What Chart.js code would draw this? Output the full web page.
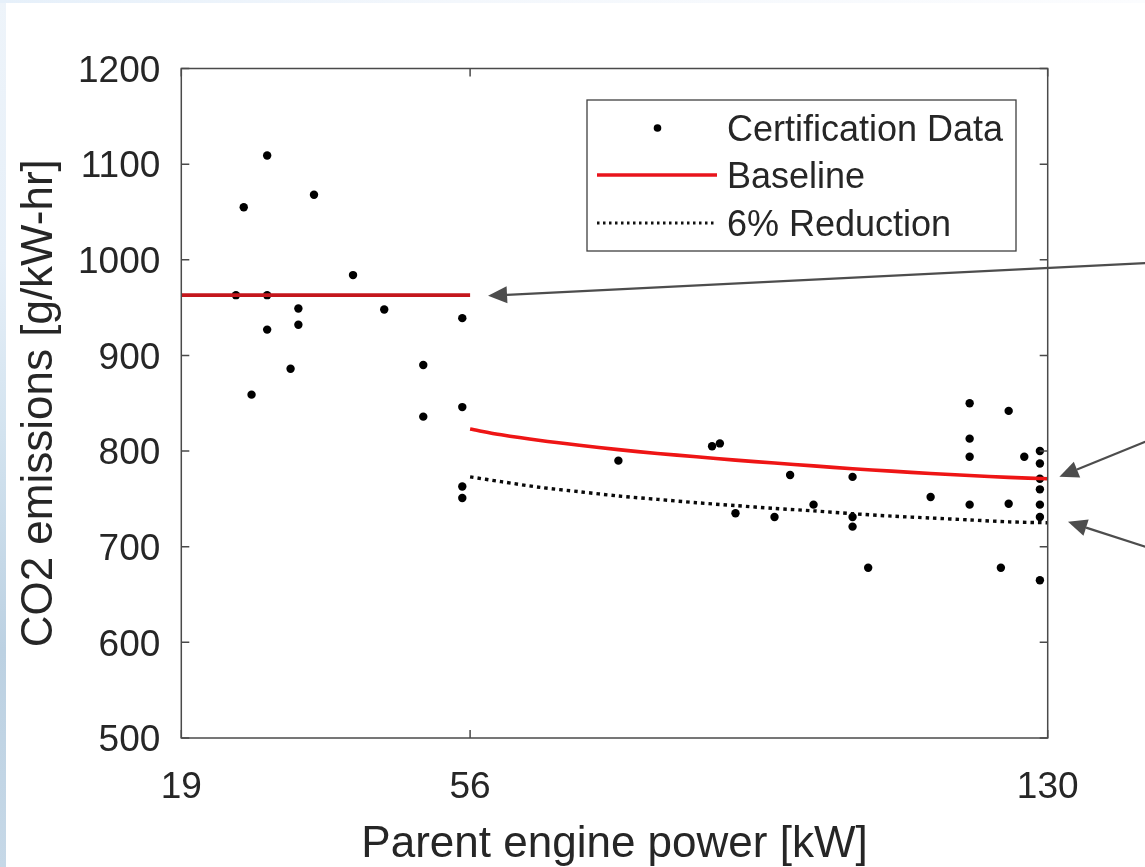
<!DOCTYPE html>
<html><head><meta charset="utf-8">
<script src="https://cdn.jsdelivr.net/npm/chart.js@4.4.1/dist/chart.umd.min.js"></script>
<style>
html,body{margin:0;padding:0;background:#fff;}
#wrap{position:relative;width:1145px;height:867px;overflow:hidden;background:#fff;}
#leftStrip{position:absolute;left:0;top:0;width:6px;height:867px;background:linear-gradient(to bottom,#eef4fa 0%,#e6eff8 30%,#d3e3ef 50%,#bcd1e2 75%,#c6d8e7 100%);}
#topStrip{position:absolute;left:0;top:0;width:1145px;height:3px;background:linear-gradient(to right,#e6f0fa 0%,#f3f7fc 40%,#fbfcfe 100%);}
canvas{position:absolute;left:0;top:0;}
</style></head>
<body><div id="wrap"><div id="leftStrip"></div><div id="topStrip"></div><canvas id="c" width="1145" height="867"></canvas></div>
<script>
// ---- data ----
const certX = [27,30,36,41,26,30,34,45,55,30,34,50,33,28,50,55,55,55,
               75,87,88,90,95,97,100,105,105,105,107,115,120,120,120,120,124,125,125,127,129,129,129,129,129,129,129];
const certY = [1055,1109,1068,984,963,963,949,948,939,927,932,890,886,859,836,846,763,751,
               790,805,808,735,731,775,744,773,731,721,678,752,850,813,794,744,678,842,745,794,800,787,771,760,744,731,665];
const baseLowX = [19,56];
const baseLowY = [963,963];
const curveX = [56,60,65,70,75,80,85,90,95,100,105,110,115,120,125,130];
const baselineY = [823,817,811,806,801.5,797.5,794,790.5,787.5,784.5,781.5,779,776.5,774.5,772.5,771];
const reductionY = [773,768,762,757.5,753,749.5,746,743,740,737.5,734.5,732,730,728,726,725];
const xTickValues = [19,56,130];
const yTicksMin = 500, yTicksMax = 1200, yStep = 100;
const seriesNames = ['Certification Data','Baseline','6% Reduction'];
// annotation arrows (data units): tip and tail
const arrowTipX = [58.3,131.5,132.6];
const arrowTipY = [962.4,773.2,726.1];
const arrowTailX = [142.5,142.5,142.5];
const arrowTailY = [996.6,809.8,700];

const FONT = "'Liberation Sans', Arial, Helvetica, sans-serif";
const TXT = '#262626';
const AXC = '#4a4a4a';

const pts = (xs,ys)=>xs.map((x,i)=>({x:x,y:ys[i]}));

const framePlugin = {
  id:'frame',
  afterDraw(chart){
    const {ctx, chartArea:a, scales} = chart;
    ctx.save();
    ctx.strokeStyle = AXC; ctx.lineWidth = 1.5;
    ctx.strokeRect(a.left, a.top, a.right-a.left, a.bottom-a.top);
    const tl = 8;
    ctx.beginPath();
    scales.y.ticks.forEach(t=>{
      const y = scales.y.getPixelForValue(t.value);
      ctx.moveTo(a.left,y); ctx.lineTo(a.left+tl,y);
      ctx.moveTo(a.right,y); ctx.lineTo(a.right-tl,y);
    });
    scales.x.ticks.forEach(t=>{
      const x = scales.x.getPixelForValue(t.value);
      ctx.moveTo(x,a.bottom); ctx.lineTo(x,a.bottom-tl);
      ctx.moveTo(x,a.top); ctx.lineTo(x,a.top+tl);
    });
    ctx.stroke();

    // arrows
    ctx.strokeStyle = '#4d4d4d'; ctx.fillStyle = '#4d4d4d'; ctx.lineWidth = 2.3;
    for (let i=0;i<arrowTipX.length;i++){
      const tx = scales.x.getPixelForValue(arrowTipX[i]), ty = scales.y.getPixelForValue(arrowTipY[i]);
      const sx = scales.x.getPixelForValue(arrowTailX[i]), sy = scales.y.getPixelForValue(arrowTailY[i]);
      const ang = Math.atan2(ty-sy, tx-sx);
      const L = 19, W = 8.5;
      const bx = tx - L*Math.cos(ang), by = ty - L*Math.sin(ang);
      ctx.beginPath(); ctx.moveTo(sx,sy); ctx.lineTo(bx,by); ctx.stroke();
      ctx.beginPath();
      ctx.moveTo(tx,ty);
      ctx.lineTo(bx + W*Math.sin(ang), by - W*Math.cos(ang));
      ctx.lineTo(bx - W*Math.sin(ang), by + W*Math.cos(ang));
      ctx.closePath(); ctx.fill();
    }

    // legend
    const bx0=587, by0=100, bw=429, bh=151;
    ctx.fillStyle='#fff'; ctx.fillRect(bx0,by0,bw,bh);
    ctx.strokeStyle='#404040'; ctx.lineWidth=1.3; ctx.strokeRect(bx0,by0,bw,bh);
    const rows=[128,175,223];
    const lx0=597, lx1=717, tx0=727;
    ctx.fillStyle='#000';
    ctx.beginPath(); ctx.arc((lx0+lx1)/2+0.5, rows[0], 3.8, 0, Math.PI*2); ctx.fill();
    ctx.strokeStyle='#e8141c'; ctx.lineWidth=3.4;
    ctx.beginPath(); ctx.moveTo(lx0,rows[1]); ctx.lineTo(lx1,rows[1]); ctx.stroke();
    ctx.strokeStyle='#111'; ctx.lineWidth=2.8; ctx.setLineDash([2.5,3.5]);
    ctx.beginPath(); ctx.moveTo(lx0,rows[2]); ctx.lineTo(lx1,rows[2]); ctx.stroke();
    ctx.setLineDash([]);
    ctx.fillStyle=TXT; ctx.font = '36px ' + FONT; ctx.textBaseline='middle'; ctx.textAlign='left';
    seriesNames.forEach((n,i)=>ctx.fillText(n, tx0, rows[i]+3));
    ctx.restore();
  }
};

new Chart(document.getElementById('c'), {
  type:'scatter',
  data:{datasets:[
    {label:'Baseline', data:pts(baseLowX,baseLowY), showLine:true, borderColor:'#c4161c', borderWidth:3.8, pointRadius:0, fill:false},
    {label:'Baseline curve', data:pts(curveX,baselineY), showLine:true, borderColor:'#ee1515', borderWidth:3.6, pointRadius:0, fill:false, tension:0.3},
    {label:'6% Reduction', data:pts(curveX,reductionY), showLine:true, borderColor:'#0a0a0a', borderWidth:3.4, borderDash:[3.5,4], pointRadius:0, fill:false, tension:0.3},
    {label:'Certification Data', data:pts(certX,certY), showLine:false, backgroundColor:'#000', borderWidth:0, pointRadius:4.2, pointHoverRadius:4.2}
  ]},
  options:{
    responsive:false, animation:false, devicePixelRatio:1,
    layout:{padding:{top:68.5,right:97.3,left:0,bottom:0}},
    plugins:{legend:{display:false}, tooltip:{enabled:false}},
    scales:{
      x:{type:'linear', min:xTickValues[0], max:xTickValues[xTickValues.length-1],
        afterBuildTicks:s=>{ s.ticks = xTickValues.map(v=>({value:v})); },
        afterFit:s=>{ s.height = 129; },
        grid:{display:false, drawTicks:false}, border:{display:false},
        ticks:{padding:28, autoSkip:false, maxRotation:0, color:TXT, font:{family:FONT,size:37}, callback:v=>String(v)},
        title:{display:true, text:'Parent engine power [kW]', color:TXT, font:{family:FONT,size:44,lineHeight:1}, padding:{top:0,bottom:0}}
      },
      y:{type:'linear', min:yTicksMin, max:yTicksMax,
        afterFit:s=>{ s.width = 181.3; },
        grid:{display:false, drawTicks:false}, border:{display:false},
        ticks:{stepSize:yStep, padding:21, labelOffset:3, color:TXT, font:{family:FONT,size:37}, callback:v=>String(v)},
        title:{display:true, text:'CO2 emissions [g/kW-hr]', color:TXT, font:{family:FONT,size:44,lineHeight:1}, padding:{top:18,bottom:0}}
      }
    }
  },
  plugins:[framePlugin]
});
</script>
</body></html>
